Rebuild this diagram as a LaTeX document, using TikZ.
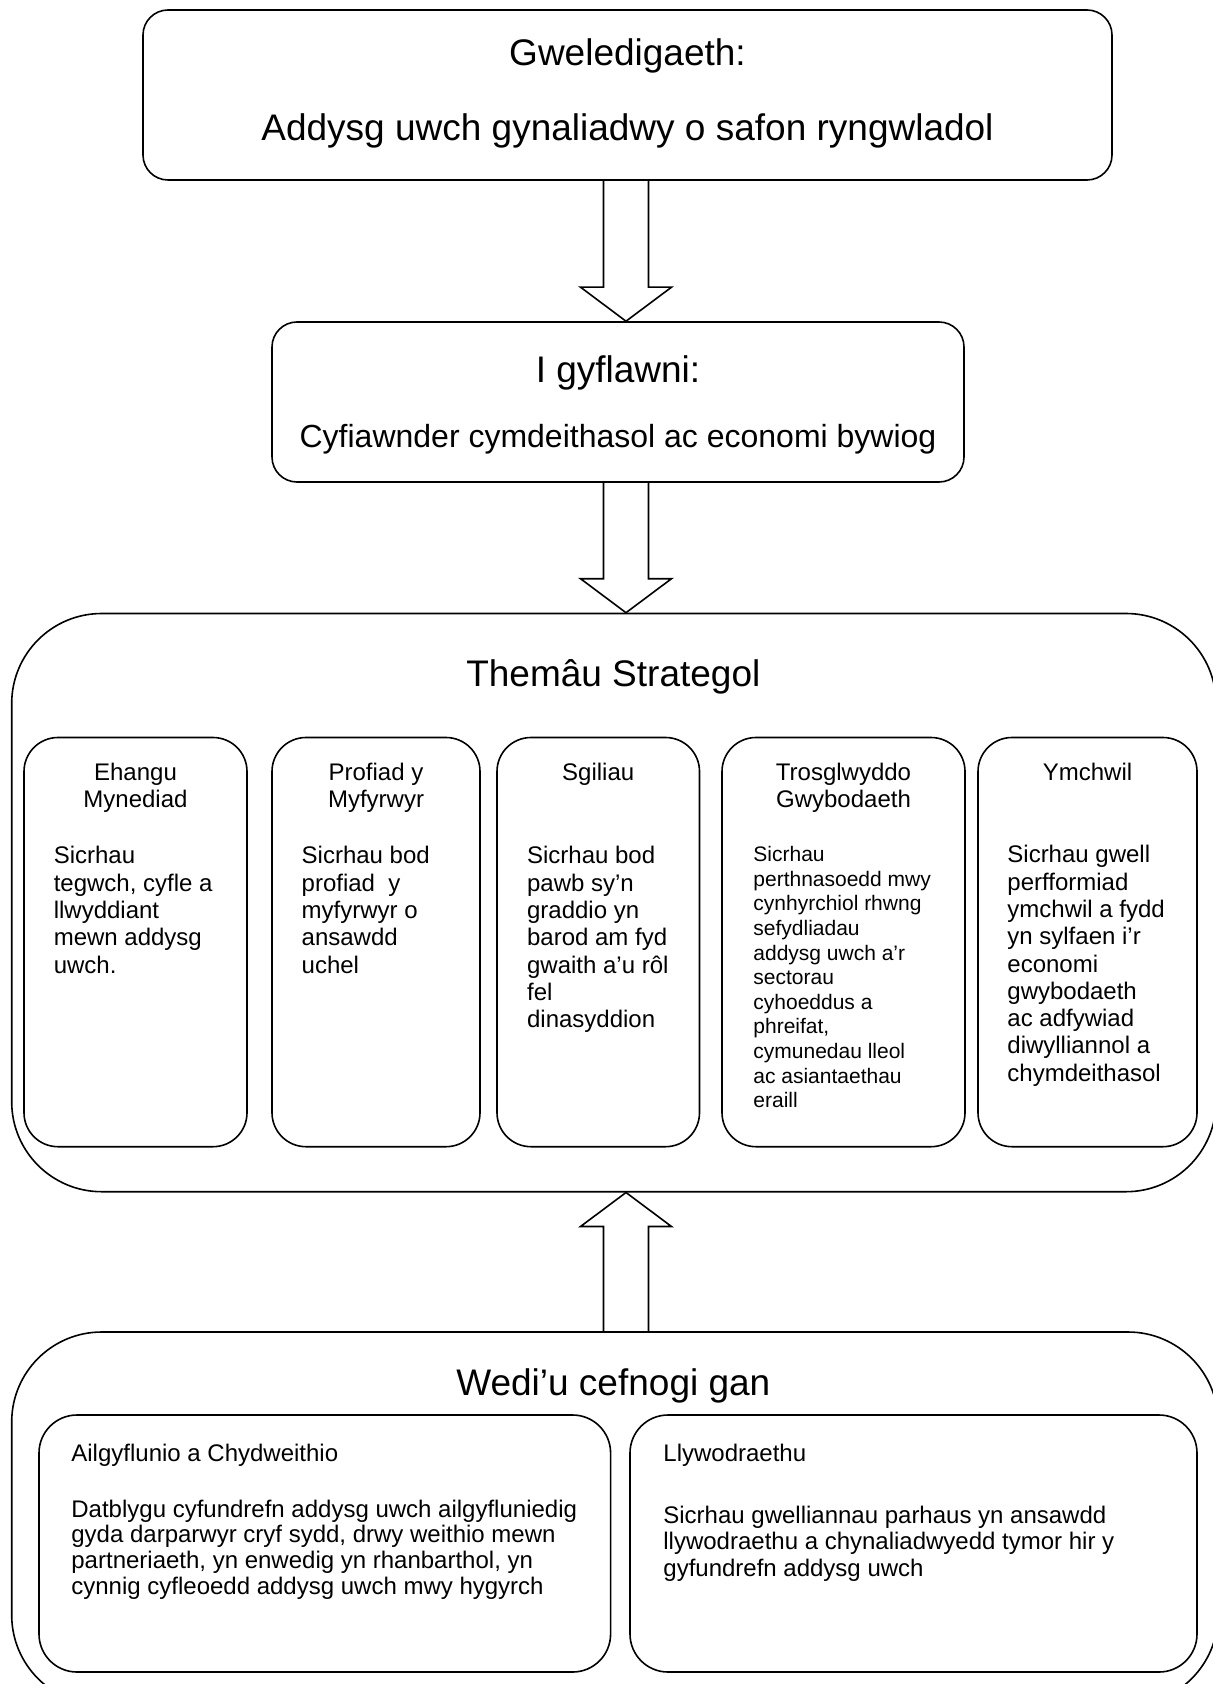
\documentclass[tikz,border=0pt]{standalone}
\usepackage{fontspec}
\setmainfont{Liberation Sans}
\usetikzlibrary{calc}

\newcommand{\fatarrow}[3]{%
  \draw[line width=0.8pt]
    ($(#1)+(-22.5,0)$) -- ($(#2)+(-22.5,{-34*(#3)})$)
    -- ($(#2)+(-45.5,{-34*(#3)})$) -- (#2)
    -- ($(#2)+(45.5,{-34*(#3)})$) -- ($(#2)+(22.5,{-34*(#3)})$)
    -- ($(#1)+(22.5,0)$);}

\begin{document}
\begin{tikzpicture}[x=0.5pt,y=-0.5pt]
 \useasboundingbox (0,0) rectangle (1212,1684);
 \tikzstyle{box} = [draw,line width=0.8pt,inner sep=0pt]
 \tikzstyle{bigtext} = [inner sep=0pt,anchor=base,font=\fontsize{18.5}{22}\selectfont]
 \tikzstyle{head} = [inner sep=0pt,anchor=north,align=center,font=\fontsize{12}{13.5}\selectfont]
 \tikzstyle{body} = [inner sep=0pt,anchor=north west,align=left,font=\fontsize{12}{13.65}\selectfont]
 \tikzstyle{pillarhead} = [inner sep=0pt,anchor=base west,font=\fontsize{12}{14}\selectfont]

 \node[box,rounded corners=12.5pt,minimum width=484.5pt,minimum height=85pt] (vision) at (627.5,95) {};
 \node[bigtext] (visionhead) at (627.5,66) {Gweledigaeth:};
 \node[bigtext] (visiontext) at (627.5,140.5) {Addysg uwch gynaliadwy o safon ryngwladol};

 \node[box,rounded corners=12.5pt,minimum width=346pt,minimum height=80pt] (aim) at (618,402) {};
 \node[bigtext] (aimhead) at (618,383) {I gyflawni:};
 \node[bigtext,font=\fontsize{16}{19}\selectfont] (aimtext) at (618,447) {Cyfiawnder cymdeithasol ac economi bywiog};

 \node[box,rounded corners=45pt,minimum width=602.15pt,minimum height=289.1pt] (themes) at (613.85,902.6) {};
 \node[bigtext] (themeshead) at (613.3,686) {Themâu Strategol};

 \tikzstyle{theme} = [box,rounded corners=17pt,minimum height=204.6pt]
 \node[theme,minimum width=111.5pt] (access) at (135.5,942.1) {};
 \node[theme,minimum width=104pt] (student) at (376,942.1) {};
 \node[theme,minimum width=101.25pt] (skills) at (598.25,942.1) {};
 \node[theme,minimum width=121.5pt] (transfer) at (843.5,942.1) {};
 \node[theme,minimum width=109.5pt] (research) at (1087.5,942.1) {};

 \node[head] (accesshead) at (135.5,763) {Ehangu\\Mynediad};
 \node[body] (accesstext) at (53.4,846) {Sicrhau\\tegwch, cyfle a\\llwyddiant\\mewn addysg\\uwch.};
 \node[head] (studenthead) at (376,763) {Profiad y\\Myfyrwyr};
 \node[body] (studenttext) at (301.3,846) {Sicrhau bod\\profiad\ \ y\\myfyrwyr o\\ansawdd\\uchel};
 \node[head] (skillshead) at (598.25,763) {Sgiliau};
 \node[body] (skillstext) at (526.7,846) {Sicrhau bod\\pawb sy’n\\graddio yn\\barod am fyd\\gwaith a’u rôl\\fel\\dinasyddion};
 \node[head] (transferhead) at (843.5,763) {Trosglwyddo\\Gwybodaeth};
 \node[body,font=\fontsize{10.5}{12.3}\selectfont] (transfertext) at (753,846) {Sicrhau\\perthnasoedd mwy\\cynhyrchiol rhwng\\sefydliadau\\addysg uwch a’r\\sectorau\\cyhoeddus a\\phreifat,\\cymunedau lleol\\ac asiantaethau\\eraill};
 \node[head] (researchhead) at (1087.5,763) {Ymchwil};
 \node[body] (researchtext) at (1007,845) {Sicrhau gwell\\perfformiad\\ymchwil a fydd\\yn sylfaen i’r\\economi\\gwybodaeth\\ac adfywiad\\diwylliannol a\\chymdeithasol};

 \node[box,rounded corners=45pt,minimum width=603.15pt,minimum height=186.5pt] (support) at (614.85,1518.5) {};
 \node[bigtext] (supporthead) at (613.35,1395) {Wedi’u cefnogi gan};

 \tikzstyle{pillar} = [box,rounded corners=19pt,minimum height=128.5pt]
 \node[pillar,minimum width=285.8pt] (restructure) at (324.8,1543.5) {};
 \node[pillar,minimum width=283.5pt] (governance) at (913.5,1543.5) {};
 \node[pillarhead] (restructurehead) at (71,1461.7) {Ailgyflunio a Chydweithio};
 \node[body,font=\fontsize{12}{12.8}\selectfont] (restructuretext) at (71,1499.4) {Datblygu cyfundrefn addysg uwch ailgyfluniedig\\gyda darparwyr cryf sydd, drwy weithio mewn\\partneriaeth, yn enwedig yn rhanbarthol, yn\\cynnig cyfleoedd addysg uwch mwy hygyrch};
 \node[pillarhead] (governancehead) at (663,1461.7) {Llywodraethu};
 \node[body,font=\fontsize{12}{13.3}\selectfont] (governancetext) at (663,1505.4) {Sicrhau gwelliannau parhaus yn ansawdd\\llywodraethu a chynaliadwyedd tymor hir y\\gyfundrefn addysg uwch};

 \coordinate (axis) at (626,0);
 \fatarrow{vision.south -| axis}{aim.north -| axis}{1}
 \fatarrow{aim.south -| axis}{themes.north -| axis}{1}
 \fatarrow{support.north -| axis}{themes.south -| axis}{-1}
\end{tikzpicture}
\end{document}
